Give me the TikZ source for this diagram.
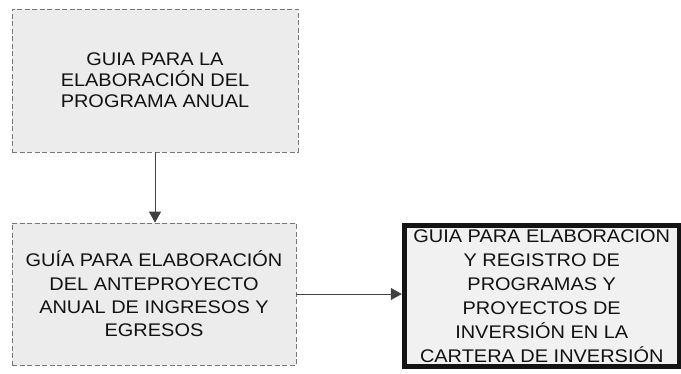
\documentclass[tikz,border=0pt]{standalone}
\usepackage{fontspec}
\setmainfont{Liberation Sans}
\newfontfamily\boxfont[FakeStretch=1.09]{Liberation Sans}
\usetikzlibrary{arrows.meta}
\definecolor{boxgray}{RGB}{236,236,236}
\definecolor{boxlight}{RGB}{241,241,241}
\definecolor{textdark}{RGB}{18,18,18}
\definecolor{dashgray}{RGB}{120,120,120}
\begin{document}
\begin{tikzpicture}[x=1pt,y=1pt,
  guide/.style={draw=dashgray, dash pattern=on 5pt off 2.5pt, line width=0.7pt,
    fill=boxgray, inner sep=0pt, align=center, text=textdark,
    font=\boxfont\fontsize{18.3}{21}\selectfont},
  finalbox/.style={fill=boxlight, inner sep=0pt, align=center, text=textdark,
    font=\boxfont\fontsize{18.3}{24}\selectfont},
  finalborder/.style={draw=black!92, line width=5pt},
  link/.style={-{Triangle[length=11pt,width=12pt]}, line width=0.8pt, draw=black!75}]
\useasboundingbox (0,0) rectangle (681,373);
\node[guide, minimum width=286pt, minimum height=143pt] (b1) at (155,292.5)
  {GUIA PARA LA\\ELABORACIÓN DEL\\PROGRAMA ANUAL};
\node[guide, minimum width=284pt, minimum height=142pt,
  font=\boxfont\fontsize{18.3}{23.3}\selectfont] (b2) at (154,79)
  {GUÍA PARA ELABORACIÓN\\DEL ANTEPROYECTO\\ANUAL DE INGRESOS Y\\EGRESOS};
\node[finalbox, minimum width=274.5pt, minimum height=141pt] (b3) at (541.75,77)
  {GUIA PARA ELABORACION\\Y REGISTRO DE\\PROGRAMAS Y\\PROYECTOS DE\\INVERSIÓN EN LA\\CARTERA DE INVERSIÓN};
\draw[finalborder] (b3.south west) rectangle (b3.north east);
\draw[link] (b1.south) -- (b1.south |- b2.north);
\draw[link, shorten >=2.5pt] (b2.east) -- (b2.east -| b3.west);
\end{tikzpicture}
\end{document}
